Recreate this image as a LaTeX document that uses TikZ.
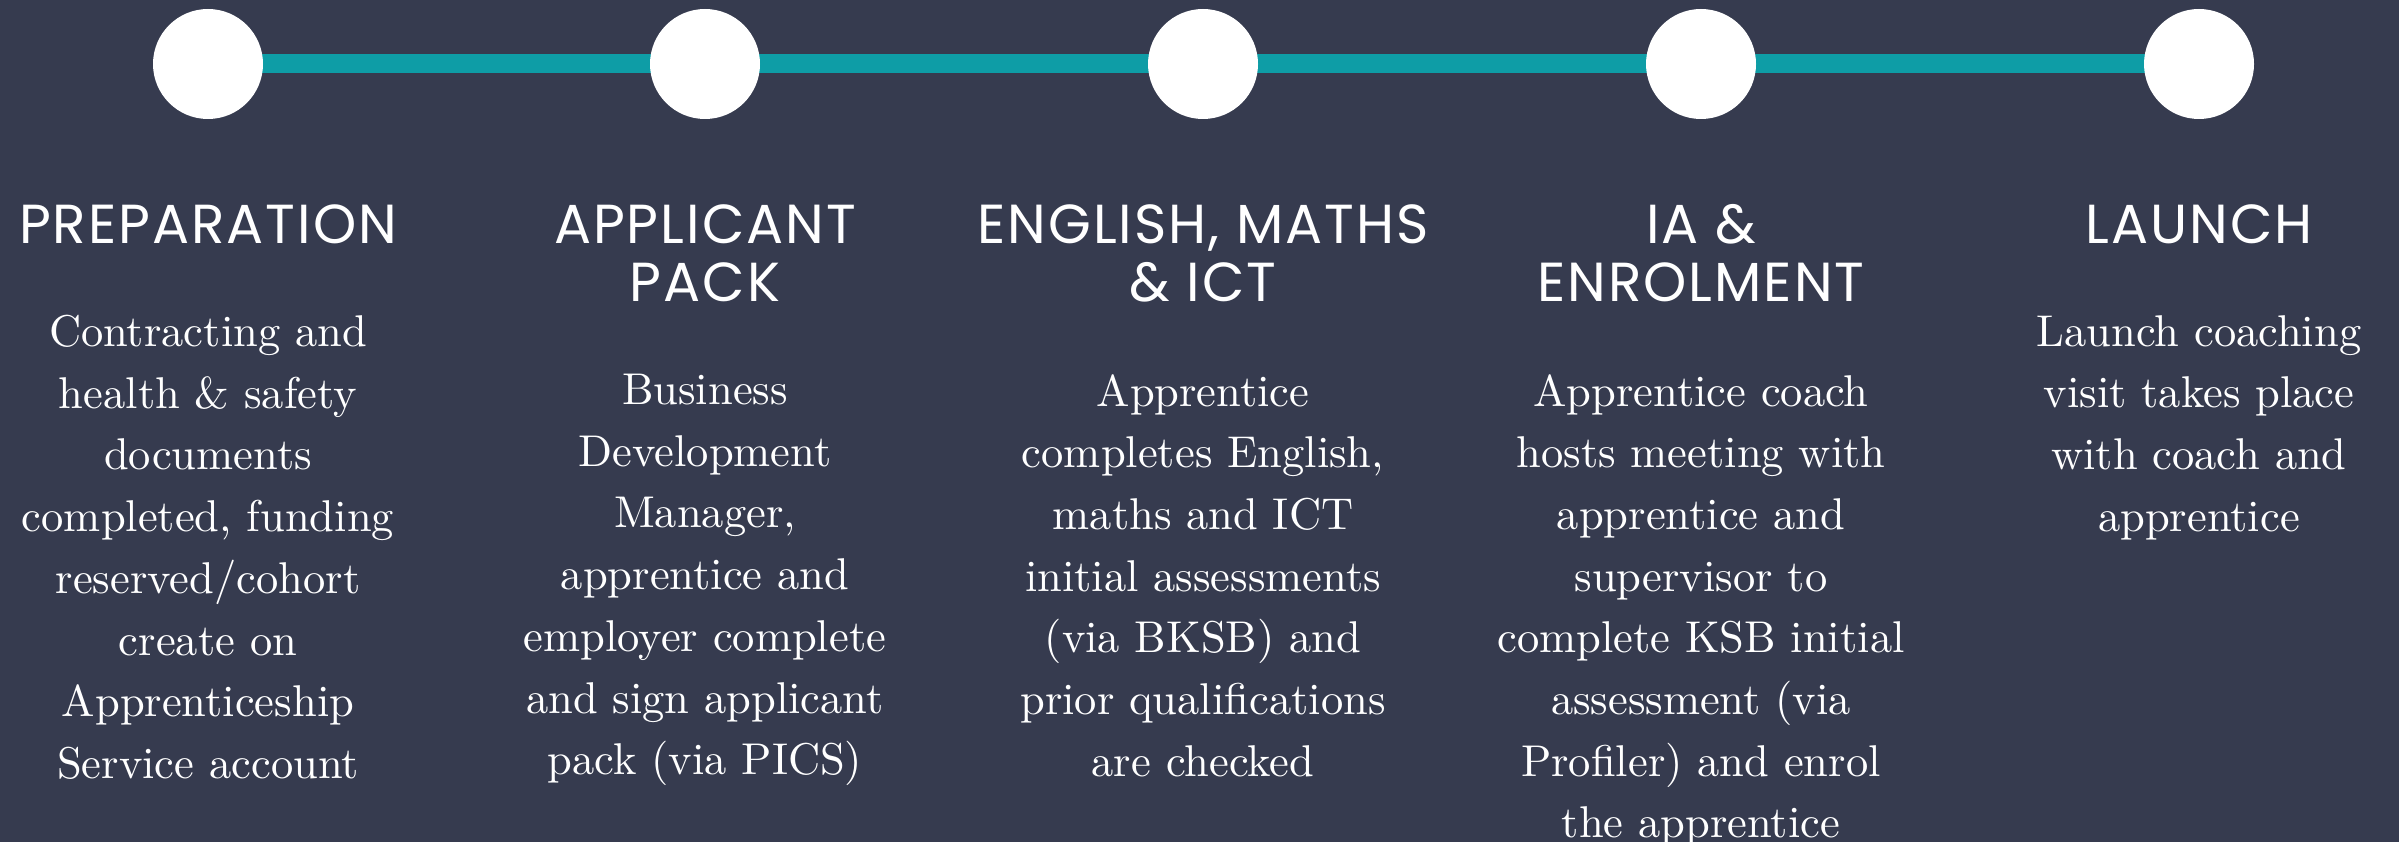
\documentclass[tikz,border=0pt]{standalone}
\usepackage{fontspec}
\newfontfamily\headfont{Poppins}[LetterSpace=3.6]
\newfontfamily\bodyfont{lmroman10-regular.otf}
\usetikzlibrary{backgrounds}
\definecolor{slatebg}{HTML}{363B4F}
\definecolor{trackteal}{HTML}{0E9DA6}
\tikzset{
  milestone/.style={circle, fill=white, minimum size=110pt, inner sep=0pt},
  track/.style={draw=trackteal, line width=19pt, shorten <=-2pt, shorten >=-2pt},
  heading/.style={anchor=north, align=center, inner sep=0pt, text=white,
    font=\headfont\fontsize{55}{58}\selectfont},
  body/.style={anchor=north, align=center, inner sep=0pt, text=white,
    font=\bodyfont\fontsize{44.5}{61.7}\selectfont},
}
\begin{document}
\begin{tikzpicture}[x=1pt, y=-1pt]
  \useasboundingbox (0,0) rectangle (2399,842);

  % milestones along the timeline
  \node[milestone] (c1) at (208,64) {};
  \node[milestone] (c2) at (705,64) {};
  \node[milestone] (c3) at (1203,64) {};
  \node[milestone] (c4) at (1701,64) {};
  \node[milestone] (c5) at (2199,64) {};

  \begin{scope}[on background layer]
    \fill[slatebg] (0,0) rectangle (2399,842);
    \draw[track] (c1) -- (c2);
    \draw[track] (c2) -- (c3);
    \draw[track] (c3) -- (c4);
    \draw[track] (c4) -- (c5);
  \end{scope}

  % stage titles
  \node[heading] (h1) at (208,204.5) {PREPARATION};
  \node[heading] (h2) at (705,204.5) {APPLICANT\\PACK};
  \node[heading] (h3) at (1203,204.5) {ENGLISH, MATHS\\\& ICT};
  \node[heading] (h4) at (1701,204.5) {IA \&\\ENROLMENT};
  \node[heading] (h5) at (2199,204.5) {LAUNCH};

  % stage descriptions
  \node[body] (d1) at (208,315) {Contracting and\\health \& safety\\documents\\completed, funding\\reserved/cohort\\create on\\Apprenticeship\\Service account};
  \node[body] (d2) at (705,374) {Business\\Development\\Manager,\\apprentice and\\employer complete\\and sign applicant\\pack (via PICS)};
  \node[body] (d3) at (1203,374) {Apprentice\\completes English,\\maths and ICT\\initial assessments\\(via BKSB) and\\prior qualifications\\are checked};
  \node[body] (d4) at (1701,374) {Apprentice coach\\hosts meeting with\\apprentice and\\supervisor to\\complete KSB initial\\assessment (via\\Profiler) and enrol\\the apprentice};
  \node[body] (d5) at (2199,315) {Launch coaching\\visit takes place\\with coach and\\apprentice};
\end{tikzpicture}
\end{document}
